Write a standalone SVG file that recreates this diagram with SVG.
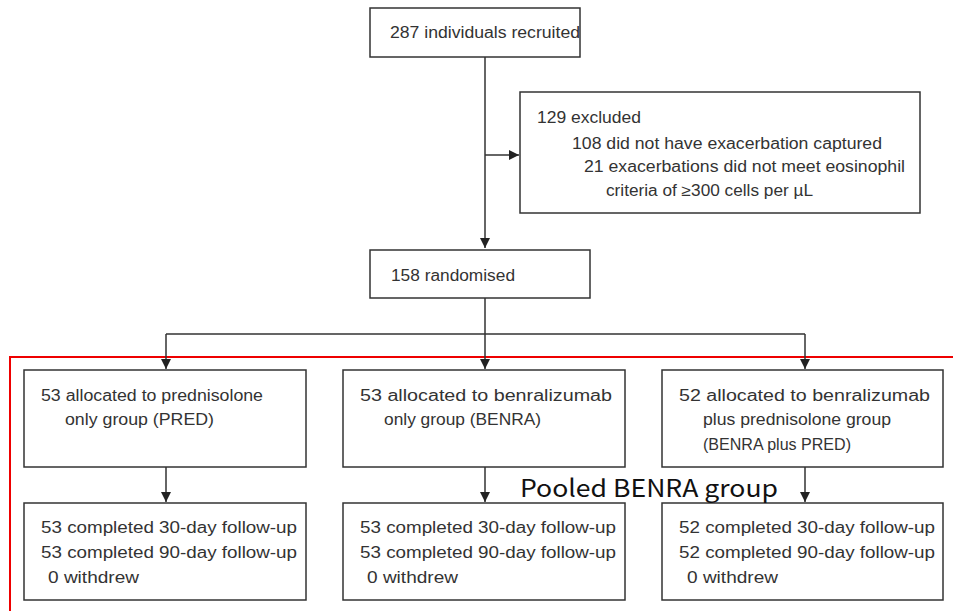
<svg xmlns="http://www.w3.org/2000/svg" width="953" height="611" viewBox="0 0 953 611">
<defs>
<style>
.box{fill:#fff;stroke:#333;stroke-width:1.5}
.t{font-family:"Liberation Sans",Arial,sans-serif;font-size:16px;fill:#333}
.ln{fill:none;stroke:#333;stroke-width:1.5}
</style>
<marker id="ah" viewBox="0 0 10 10" refX="10" refY="5" markerWidth="10" markerHeight="10" markerUnits="userSpaceOnUse" orient="auto">
<path d="M0,0 L10,5 L0,10 Z" fill="#222"/>
</marker>
</defs>
<rect width="953" height="611" fill="#fff"/>
<path d="M956,357 H10 V612" fill="none" stroke="#e00" stroke-width="2"/>
<g id="connectors">
<path class="ln" d="M485,57 V248" marker-end="url(#ah)"/>
<path class="ln" d="M485,155 H519" marker-end="url(#ah)"/>
<path class="ln" d="M485,298 V334 M166,334 H805"/>
<path class="ln" d="M166,334 V369" marker-end="url(#ah)"/>
<path class="ln" d="M485,334 V369" marker-end="url(#ah)"/>
<path class="ln" d="M805,334 V369" marker-end="url(#ah)"/>
<path class="ln" d="M166,467 V502" marker-end="url(#ah)"/>
<path class="ln" d="M485,467 V502" marker-end="url(#ah)"/>
<path class="ln" d="M805,467 V502" marker-end="url(#ah)"/>
</g>
<g id="recruited">
<rect class="box" x="370" y="8" width="210" height="49"/>
<text class="t" x="390" y="38" textLength="190" lengthAdjust="spacingAndGlyphs">287 individuals recruited</text>
</g>
<g id="excluded">
<rect class="box" x="520" y="92" width="400" height="121"/>
<text class="t" x="537" y="123" textLength="104" lengthAdjust="spacingAndGlyphs">129 excluded</text>
<text class="t" x="572" y="149" textLength="310" lengthAdjust="spacingAndGlyphs">108 did not have exacerbation captured</text>
<text class="t" x="584" y="172" textLength="321" lengthAdjust="spacingAndGlyphs">21 exacerbations did not meet eosinophil</text>
<text class="t" x="606" y="196" textLength="207" lengthAdjust="spacingAndGlyphs">criteria of ≥300 cells per µL</text>
</g>
<g id="randomised">
<rect class="box" x="370" y="250" width="220" height="48"/>
<text class="t" x="391" y="281" textLength="124" lengthAdjust="spacingAndGlyphs">158 randomised</text>
</g>
<g id="pred">
<rect class="box" x="24" y="370" width="282" height="97"/>
<text class="t" x="41" y="401" textLength="222" lengthAdjust="spacingAndGlyphs">53 allocated to prednisolone</text>
<text class="t" x="65" y="425" textLength="149" lengthAdjust="spacingAndGlyphs">only group (PRED)</text>
</g>
<g id="benra">
<rect class="box" x="343" y="370" width="282" height="97"/>
<text class="t" x="360" y="401" textLength="252" lengthAdjust="spacingAndGlyphs">53 allocated to benralizumab</text>
<text class="t" x="384" y="425" textLength="157" lengthAdjust="spacingAndGlyphs">only group (BENRA)</text>
</g>
<g id="benrapred">
<rect class="box" x="662" y="370" width="281" height="97"/>
<text class="t" x="679" y="401" textLength="251" lengthAdjust="spacingAndGlyphs">52 allocated to benralizumab</text>
<text class="t" x="703" y="425" textLength="188" lengthAdjust="spacingAndGlyphs">plus prednisolone group</text>
<text class="t" x="703" y="450" textLength="148" lengthAdjust="spacingAndGlyphs">(BENRA plus PRED)</text>
</g>
<g id="pred-followup">
<rect class="box" x="24" y="503" width="282" height="97"/>
<text class="t" x="41" y="533" textLength="256" lengthAdjust="spacingAndGlyphs">53 completed 30-day follow-up</text>
<text class="t" x="41" y="558" textLength="256" lengthAdjust="spacingAndGlyphs">53 completed 90-day follow-up</text>
<text class="t" x="48" y="583" textLength="91" lengthAdjust="spacingAndGlyphs">0 withdrew</text>
</g>
<g id="benra-followup">
<rect class="box" x="343" y="503" width="282" height="97"/>
<text class="t" x="360" y="533" textLength="256" lengthAdjust="spacingAndGlyphs">53 completed 30-day follow-up</text>
<text class="t" x="360" y="558" textLength="256" lengthAdjust="spacingAndGlyphs">53 completed 90-day follow-up</text>
<text class="t" x="367" y="583" textLength="91" lengthAdjust="spacingAndGlyphs">0 withdrew</text>
</g>
<g id="benrapred-followup">
<rect class="box" x="662" y="503" width="281" height="97"/>
<text class="t" x="679" y="533" textLength="256" lengthAdjust="spacingAndGlyphs">52 completed 30-day follow-up</text>
<text class="t" x="679" y="558" textLength="256" lengthAdjust="spacingAndGlyphs">52 completed 90-day follow-up</text>
<text class="t" x="687" y="583" textLength="91" lengthAdjust="spacingAndGlyphs">0 withdrew</text>
</g>
<text x="520" y="497" font-family="'Noto Sans CJK KR','Noto Sans',sans-serif" font-size="24" fill="#111" textLength="258" lengthAdjust="spacingAndGlyphs">Pooled BENRA group</text>
</svg>
